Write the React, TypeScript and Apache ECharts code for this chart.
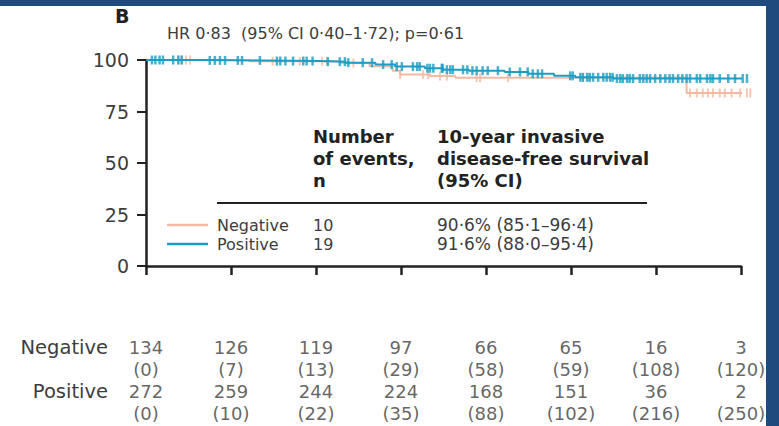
import React, { useEffect, useRef } from "react";
import * as echarts from "echarts";

// ---- Data ----
// KM steps: [time (tick units 0..7), survival %] — level holds from this time until the next step
const posSteps: [number, number][] = [
  [0, 100], [0.7, 99.8], [1.35, 99.5], [2.05, 99.2], [2.35, 98.7], [2.7, 97.8],
  [2.93, 96.8], [3.28, 96.0], [3.5, 95.3], [3.8, 94.8], [4.22, 94.2], [4.5, 93.3],
  [4.8, 92.3], [5.05, 91.6], [5.5, 91.0], [7.1, 91.0],
];
const negSteps: [number, number][] = [
  [0, 100], [1.22, 99.4], [2.28, 98.5], [2.63, 97.0], [2.9, 94.8], [2.99, 93.0],
  [3.34, 92.2], [3.64, 91.4], [6.36, 84.0], [7.13, 84.0],
];
const posCensor = [
  0.07, 0.11, 0.16, 0.2, 0.32, 0.38, 0.42, 0.75, 0.81, 0.87, 0.93, 1.08, 1.13, 1.34,
  1.54, 1.58, 1.64, 1.73, 1.85, 1.89, 1.96, 2.14, 2.28, 2.34, 2.38, 2.55, 2.66, 2.79,
  2.89, 2.95, 3.01, 3.14, 3.19, 3.22, 3.31, 3.34, 3.38, 3.48, 3.49, 3.54, 3.58, 3.61,
  3.73, 3.78, 3.84, 3.89, 3.96, 4.02, 4.14, 4.28, 4.4, 4.49, 4.55, 4.61, 4.66, 4.99,
  5.02, 5.11, 5.14, 5.19, 5.22, 5.26, 5.32, 5.38, 5.42, 5.46, 5.49, 5.54, 5.58, 5.61,
  5.66, 5.69, 5.73, 5.81, 5.85, 5.89, 5.93, 5.99, 6.05, 6.11, 6.16, 6.2, 6.26, 6.31,
  6.36, 6.4, 6.48, 6.52, 6.6, 6.64, 6.67, 6.75, 6.85, 6.93, 7.02, 7.07,
];
const negCensor = [
  0.38, 0.42, 0.47, 0.52, 1.49, 1.81, 2.07, 2.13, 2.44, 2.99, 3.26, 3.32, 3.46, 3.54,
  3.89, 3.93, 4.26, 5.14, 5.22, 6.4, 6.48, 6.55, 6.61, 6.67, 6.75, 6.81, 6.89, 6.99,
  7.07, 7.11,
];
const yTicks = [0, 25, 50, 75, 100];
const riskGroups = ["Negative", "Positive"];
const atRiskNeg = [134, 126, 119, 97, 66, 65, 16, 3];
const cumNeg = [0, 7, 13, 29, 58, 59, 108, 120];
const atRiskPos = [272, 259, 244, 224, 168, 151, 36, 2];
const cumPos = [0, 10, 22, 35, 88, 102, 216, 250];
const legendNames = ["Negative", "Positive"];
const events = ["10", "19"];
const survivalCI = ["90·6% (85·1–96·4)", "91·6% (88·0–95·4)"];
const titleText = "B";
const hrText = "HR 0·83  (95% CI 0·40–1·72); p=0·61";
const headerEvents = ["Number", "of events,", "n"];
const headerSurv = ["10-year invasive", "disease-free survival", "(95% CI)"];

const NEG_COLOR = "#f2b9a3";
const POS_COLOR = "#1c9ec4";
const FONT = "DejaVu Sans";

function levelAt(steps: [number, number][], t: number): number {
  let v = steps[0][1];
  for (const [x, y] of steps) {
    if (x <= t) v = y;
  }
  return v;
}

export default function App() {
  const ref = useRef<HTMLDivElement>(null);
  useEffect(() => {
    if (!ref.current) return;
    const chart = echarts.init(ref.current, null, { renderer: "svg" });

    const riskRows: [number, number, string][] = [];
    atRiskNeg.forEach((v, i) => riskRows.push([i, 0, String(v)]));
    cumNeg.forEach((v, i) => riskRows.push([i, 1, `(${v})`]));
    atRiskPos.forEach((v, i) => riskRows.push([i, 2, String(v)]));
    cumPos.forEach((v, i) => riskRows.push([i, 3, `(${v})`]));

    const textStyleBase = { fontFamily: FONT, fill: "#3d3d3d" };
    const graphics: any[] = [
      { type: "rect", shape: { x: 0, y: 0, width: 779, height: 6 }, style: { fill: "#1f4a7d" }, silent: true },
      { type: "rect", shape: { x: 766, y: 0, width: 13, height: 426 }, style: { fill: "#1f4a7d" }, silent: true },
      { type: "text", x: 115, y: 16, style: { text: titleText, font: `bold 19px ${FONT}`, fill: "#222", textVerticalAlign: "middle" } },
      { type: "text", x: 167, y: 33, style: { ...textStyleBase, text: hrText, fontSize: 16, textVerticalAlign: "middle" } },
      { type: "line", shape: { x1: 217, y1: 203, x2: 647, y2: 203 }, style: { stroke: "#222", lineWidth: 2 } },
    ];
    headerEvents.forEach((t, i) => {
      graphics.push({ type: "text", x: 313, y: 136 + i * 22, style: { text: t, font: `bold 18px ${FONT}`, fill: "#222", textVerticalAlign: "middle" } });
    });
    headerSurv.forEach((t, i) => {
      graphics.push({ type: "text", x: 437, y: 136 + i * 22, style: { text: t, font: `bold 18px ${FONT}`, fill: "#222", textVerticalAlign: "middle" } });
    });
    legendNames.forEach((n, i) => {
      const y = 225 + i * 19;
      graphics.push({ type: "line", shape: { x1: 167, y1: y, x2: 208, y2: y }, style: { stroke: i === 0 ? NEG_COLOR : POS_COLOR, lineWidth: 2.5 } });
      graphics.push({ type: "text", x: 217, y, style: { ...textStyleBase, text: n, fontSize: 16, textVerticalAlign: "middle" } });
      graphics.push({ type: "text", x: 313, y, style: { ...textStyleBase, text: events[i], fontSize: 16, textVerticalAlign: "middle" } });
      graphics.push({ type: "text", x: 437, y, style: { ...textStyleBase, text: survivalCI[i], fontSize: 17, textVerticalAlign: "middle" } });
    });

    const option: any = {
      animation: false,
      backgroundColor: "#ffffff",
      grid: [
        { left: 146, right: 38, top: 60, height: 206 },
        { left: 146, right: 38, top: 347, height: 66 },
      ],
      xAxis: [
        {
          gridIndex: 0, type: "value", min: 0, max: 7, interval: 1,
          axisLine: { show: true, onZero: false, lineStyle: { color: "#222", width: 2.5 } },
          axisTick: { show: true, length: 9, lineStyle: { color: "#222", width: 2.5 } },
          axisLabel: { show: false }, splitLine: { show: false },
        },
        {
          gridIndex: 1, type: "value", min: 0, max: 7, interval: 1,
          axisLine: { show: false }, axisTick: { show: false }, axisLabel: { show: false }, splitLine: { show: false },
        },
      ],
      yAxis: [
        {
          gridIndex: 0, type: "value", min: yTicks[0], max: yTicks[yTicks.length - 1], interval: 25,
          axisLine: { show: true, onZero: false, lineStyle: { color: "#222", width: 2.5 } },
          axisTick: { show: true, length: 9, lineStyle: { color: "#222", width: 2 } },
          axisLabel: { color: "#3d3d3d", fontSize: 19, fontFamily: FONT, margin: 17 },
          splitLine: { show: false },
        },
        {
          gridIndex: 1, type: "value", min: 0, max: 3, interval: 1, inverse: true,
          axisLine: { show: false }, axisTick: { show: false }, splitLine: { show: false },
          axisLabel: {
            color: "#3d3d3d", fontSize: 19.5, fontFamily: FONT, margin: 38,
            formatter: (v: number) => (v === 0 ? riskGroups[0] : v === 2 ? riskGroups[1] : ""),
          },
        },
      ],
      series: [
        {
          type: "line", step: "end", data: negSteps, xAxisIndex: 0, yAxisIndex: 0, clip: false,
          symbol: "none", lineStyle: { color: NEG_COLOR, width: 2 }, z: 2,
        },
        {
          type: "scatter", xAxisIndex: 0, yAxisIndex: 0, clip: false, symbol: "rect", symbolSize: [2, 9],
          data: negCensor.map((t) => [t, levelAt(negSteps, t)]), itemStyle: { color: NEG_COLOR }, z: 3,
        },
        {
          type: "line", step: "end", data: posSteps, xAxisIndex: 0, yAxisIndex: 0, clip: false,
          symbol: "none", lineStyle: { color: POS_COLOR, width: 2 }, z: 4,
        },
        {
          type: "scatter", xAxisIndex: 0, yAxisIndex: 0, clip: false, symbol: "rect", symbolSize: [2.5, 9],
          data: posCensor.map((t) => [t, levelAt(posSteps, t)]), itemStyle: { color: POS_COLOR }, z: 5,
        },
        {
          type: "scatter", xAxisIndex: 1, yAxisIndex: 1, symbolSize: 1,
          itemStyle: { color: "rgba(0,0,0,0)" },
          data: riskRows,
          label: {
            show: true, position: "inside", color: "#3d3d3d", fontSize: 18, fontFamily: FONT,
            formatter: (p: any) => p.data[2],
          },
        },
      ],
      graphic: graphics,
    };
    chart.setOption(option);
    return () => chart.dispose();
  }, []);
  return (
    <div
      ref={ref}
      style={{ position: "fixed", left: 0, top: 0, width: 779, height: 426, background: "#fff" }}
    />
  );
}
